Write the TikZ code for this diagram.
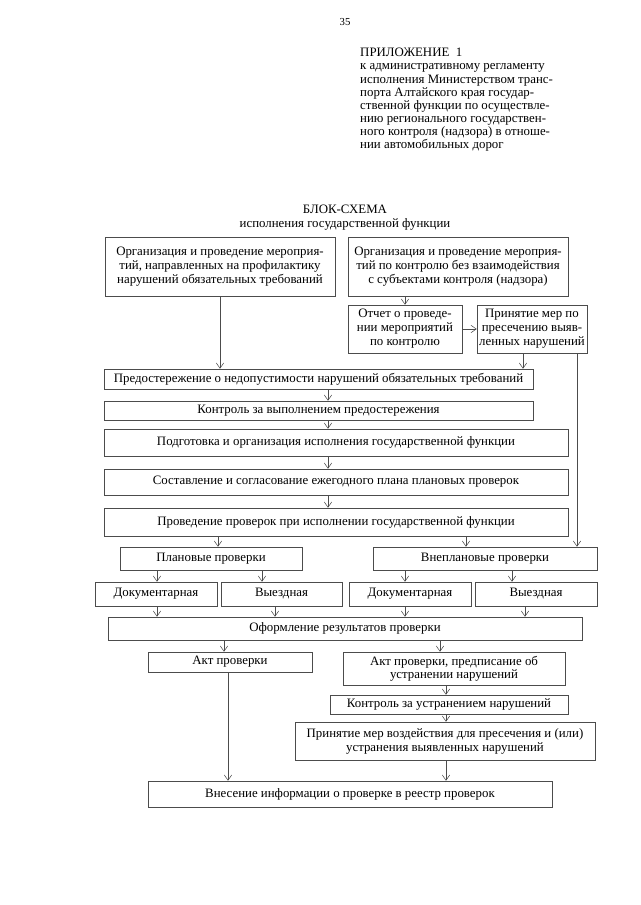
\documentclass[tikz,border=0pt]{standalone}
\usepackage{fontspec}
\setmainfont{Liberation Serif}
\usetikzlibrary{arrows.meta}
\newlength\pxu
\setlength\pxu{0.0328125cm}

\tikzset{
  blok/.style={draw=black!70, line width=0.5pt, inner sep=1pt, align=center,
    font=\fontsize{12}{13}\selectfont},
  bx/.style 2 args={blok, minimum width=#1*\pxu, minimum height=#2*\pxu},
  arr/.style={draw=black!70, line width=0.5pt, -{Straight Barb[length=5pt,width=7pt]}}
}

\begin{document}
\begin{tikzpicture}[x=0.0328125cm, y=-0.0328125cm]
        \useasboundingbox (0,0) rectangle (640,905);

        % header
        \node (str) at (345,22) {35};
        \node[anchor=north west, align=left, inner sep=0pt,
          font=\fontsize{12}{12.3}\selectfont] (prilozh) at (360,48)
          {ПРИЛОЖЕНИЕ\ \ 1\\к административному регламенту\\исполнения Министерством транс-\\порта Алтайского края государ-\\ственной функции по осуществле-\\нию регионального государствен-\\ного контроля (надзора) в отноше-\\нии автомобильных дорог};
        \node[align=center, font=\fontsize{12}{13}\selectfont] (zagol) at (345,218)
          {БЛОК-СХЕМА\\исполнения государственной функции};

        % blocks
        \node[bx={230}{59}] (prof) at (220,266.5) {Организация и проведение мероприя-\\тий, направленных на профилактику\\нарушений обязательных требований};
        \node[bx={220}{59}] (bezvz) at (458,266.5) {Организация и проведение мероприя-\\тий по контролю без взаимодействия\\с субъектами контроля (надзора)};
        \node[bx={114}{48}] (otchet) at (405,329) {Отчет о проведе-\\нии мероприятий\\по контролю};
        \node[bx={110}{48}] (presech) at (532,329) {Принятие мер по\\пресечению выяв-\\ленных нарушений};
        \node[bx={429}{20}] (predost) at (318.5,379) {Предостережение о недопустимости нарушений обязательных требований};
        \node[bx={429}{19}] (kontrpred) at (318.5,410.5) {Контроль за выполнением предостережения};
        \node[bx={464}{27}] (podgot) at (336,442.5) {Подготовка и организация исполнения государственной функции};
        \node[bx={464}{26}] (plan) at (336,482) {Составление и согласование ежегодного плана плановых проверок};
        \node[bx={464}{28}] (proved) at (336,522) {Проведение проверок при исполнении государственной функции};
        \node[bx={182}{23}] (planov) at (211,558.5) {Плановые проверки};
        \node[bx={224}{23}] (vneplan) at (485,558.5) {Внеплановые проверки};
        \node[bx={122}{24}] (dok1) at (156,594) {Документарная};
        \node[bx={121}{24}] (vyezd1) at (281.5,594) {Выездная};
        \node[bx={122}{24}] (dok2) at (410,594) {Документарная};
        \node[bx={122}{24}] (vyezd2) at (536,594) {Выездная};
        \node[bx={474}{23}] (oform) at (345,628.5) {Оформление результатов проверки};
        \node[bx={164}{20}] (akt) at (230,662) {Акт проверки};
        \node[bx={222}{33}, font=\fontsize{12}{12}\selectfont] (aktpred) at (454,668.5) {Акт проверки, предписание об\\устранении нарушений};
        \node[bx={238}{19}] (kontrustr) at (449,704.5) {Контроль за устранением нарушений};
        \node[bx={300}{38}] (mery) at (445,741) {Принятие мер воздействия для пресечения и (или)\\устранения выявленных нарушений};
        \node[bx={404}{26}] (reestr) at (350,794) {Внесение информации о проверке в реестр проверок};

        % columns for the arrows
        \foreach \n/\x in {kD/523, kR/577, kM/328, kJ/218, kK/466, kL/262, kV/512,
            kLa/157, kLb/275, kLc/405, kLd/525, kN/224, kO/440, kU/446, kAkt/228}
          \coordinate (\n) at (\x,0);

        % arrows
        \draw[arr] (prof.south) -- (prof.south |- predost.north);
        \draw[arr] (otchet.north |- bezvz.south) -- (otchet.north);
        \draw[arr] (otchet) -- (presech);
        \draw[arr] (presech.south -| kD) -- (predost.north -| kD);
        \draw[arr] (presech.south -| kR) -- (vneplan.north -| kR);
        \draw[arr] (predost.south -| kM) -- (kontrpred.north -| kM);
        \draw[arr] (kontrpred.south -| kM) -- (podgot.north -| kM);
        \draw[arr] (podgot.south -| kM) -- (plan.north -| kM);
        \draw[arr] (plan.south -| kM) -- (proved.north -| kM);
        \draw[arr] (proved.south -| kJ) -- (planov.north -| kJ);
        \draw[arr] (proved.south -| kK) -- (vneplan.north -| kK);
        \draw[arr] (planov.south -| kLa) -- (dok1.north -| kLa);
        \draw[arr] (planov.south -| kL) -- (vyezd1.north -| kL);
        \draw[arr] (vneplan.south -| kLc) -- (dok2.north -| kLc);
        \draw[arr] (vneplan.south -| kV) -- (vyezd2.north -| kV);
        \draw[arr] (dok1.south -| kLa) -- (oform.north -| kLa);
        \draw[arr] (vyezd1.south -| kLb) -- (oform.north -| kLb);
        \draw[arr] (dok2.south -| kLc) -- (oform.north -| kLc);
        \draw[arr] (vyezd2.south -| kLd) -- (oform.north -| kLd);
        \draw[arr] (oform.south -| kN) -- (akt.north -| kN);
        \draw[arr] (oform.south -| kO) -- (aktpred.north -| kO);
        \draw[arr] (aktpred.south -| kU) -- (kontrustr.north -| kU);
        \draw[arr] (kontrustr.south -| kU) -- (mery.north -| kU);
        \draw[arr] (mery.south -| kU) -- (reestr.north -| kU);
        \draw[arr] (akt.south -| kAkt) -- (reestr.north -| kAkt);
\end{tikzpicture}
\end{document}
